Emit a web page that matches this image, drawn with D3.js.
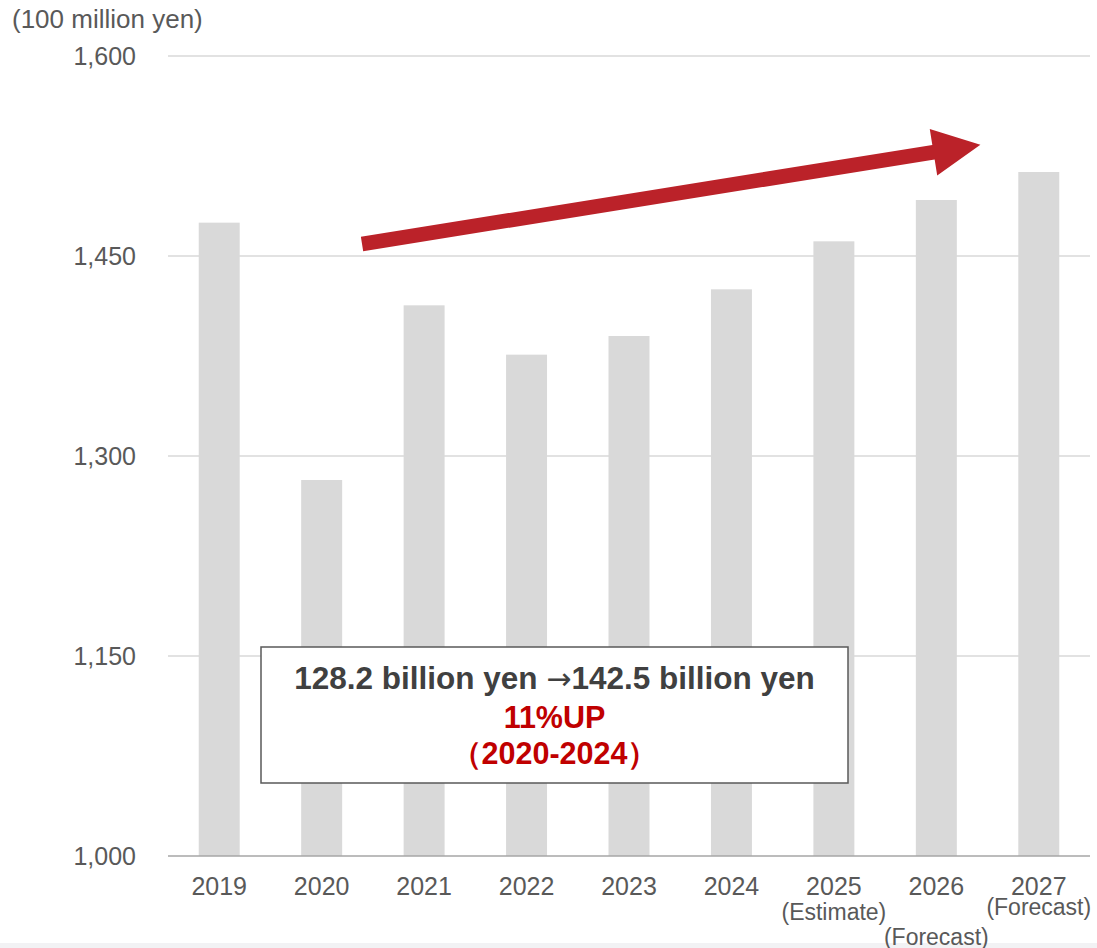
<!DOCTYPE html>
<html>
<head>
<meta charset="utf-8">
<script src="https://cdn.jsdelivr.net/npm/d3@7"></script>
<style>
  html, body { margin: 0; padding: 0; background: #ffffff; }
  svg { display: block; }
  text { font-family: "Liberation Sans", Arial, sans-serif; }
</style>
</head>
<body>
<script>
// Sales revenue by fiscal year (unit: 100 million yen)
const years = ["2019", "2020", "2021", "2022", "2023", "2024", "2025", "2026", "2027"];
const yearNotes = ["", "", "", "", "", "", "(Estimate)", "(Forecast)", "(Forecast)"];
const revenue = [1475, 1282, 1413, 1376, 1390, 1425, 1461, 1492, 1513];
const yTicks = [1000, 1150, 1300, 1450, 1600];
const unitLabel = "(100 million yen)";
// first callout line is split around the arrow glyph
const calloutHead = ["128.2 billion yen ", "\u2192", "142.5 billion yen"];
const calloutLines = ["11%UP", "\uff082020-2024\uff09"];

// Trend arrow endpoints: [category position, value]
const trendFrom = [1.894, 1459];
const trendTo = [7.93, 1533.5];

const W = 1097, H = 948;
const plot = { left: 168, right: 1090, top: 56, bottom: 856 };

const svg = d3.select("body").append("svg")
  .attr("width", W).attr("height", H);

// light strip along the page's bottom edge
svg.append("rect")
  .attr("x", 0).attr("y", 943).attr("width", W).attr("height", H - 943)
  .attr("fill", "#f2f2f4");

const x = d3.scaleBand()
  .domain(years)
  .range([plot.left, plot.right])
  .paddingInner(0.6)
  .paddingOuter(0.3);

const xPos = d3.scaleLinear().domain([0, years.length]).range([plot.left, plot.right]);

const y = d3.scaleLinear()
  .domain([yTicks[0], yTicks[yTicks.length - 1]])
  .range([plot.bottom, plot.top]);

// horizontal gridlines
svg.append("g").selectAll("line")
  .data(yTicks.slice(1))
  .join("line")
  .attr("x1", plot.left).attr("x2", plot.right)
  .attr("y1", d => y(d)).attr("y2", d => y(d))
  .attr("stroke", "#d9d9d9").attr("stroke-width", 1.5);

// bars
svg.append("g").selectAll("rect")
  .data(revenue)
  .join("rect")
  .attr("x", (d, i) => x(years[i]))
  .attr("width", x.bandwidth())
  .attr("y", d => y(d))
  .attr("height", d => y(yTicks[0]) - y(d))
  .attr("fill", "#d9d9d9");

// baseline
svg.append("line")
  .attr("x1", plot.left).attr("x2", plot.right)
  .attr("y1", y(yTicks[0])).attr("y2", y(yTicks[0]))
  .attr("stroke", "#a6a6a6").attr("stroke-width", 1.5);

// y axis
const yAxis = svg.append("g")
  .attr("transform", `translate(${plot.left},0)`)
  .call(d3.axisLeft(y).tickValues(yTicks).tickFormat(d3.format(",")).tickSize(0).tickPadding(32));
yAxis.select(".domain").remove();
yAxis.selectAll("text")
  .attr("font-size", 25)
  .attr("fill", "#595959")
  .style("font-family", "'Liberation Sans', Arial, sans-serif");

// unit label
svg.append("text")
  .attr("x", 12).attr("y", 28)
  .attr("font-size", 26)
  .attr("fill", "#595959")
  .text(unitLabel);

// x axis
const xAxis = svg.append("g")
  .attr("transform", `translate(0,${plot.bottom})`)
  .call(d3.axisBottom(x).tickSize(0).tickPadding(21));
xAxis.select(".domain").remove();
xAxis.selectAll("text")
  .attr("font-size", 25)
  .attr("fill", "#595959")
  .style("font-family", "'Liberation Sans', Arial, sans-serif");

// notes under the estimate / forecast years
const noteBaseline = [0, 0, 0, 0, 0, 0, 920, 945, 915];
const notes = yearNotes
  .map((text, i) => ({ text, year: years[i], baseline: noteBaseline[i] }))
  .filter(d => d.text !== "");
svg.append("g").selectAll("text")
  .data(notes)
  .join("text")
  .attr("x", d => x(d.year) + x.bandwidth() / 2)
  .attr("y", d => d.baseline)
  .attr("text-anchor", "middle")
  .attr("font-size", 23)
  .attr("fill", "#595959")
  .text(d => d.text);

// trend arrow
(function drawArrow() {
  const p0 = [xPos(trendFrom[0]), y(trendFrom[1])];
  const p1 = [xPos(trendTo[0]), y(trendTo[1])];
  const dx = p1[0] - p0[0], dy = p1[1] - p0[1];
  const len = Math.hypot(dx, dy);
  const u = [dx / len, dy / len];
  const n = [-u[1], u[0]];
  const shaftHalf = 7.3, headHalf = 23.5, headLen = 47.5;
  const base = [p1[0] - u[0] * headLen, p1[1] - u[1] * headLen];
  const pt = (p, k) => [p[0] + n[0] * k, p[1] + n[1] * k];
  const pts = [
    pt(p0, -shaftHalf), pt(base, -shaftHalf), pt(base, -headHalf), p1,
    pt(base, headHalf), pt(base, shaftHalf), pt(p0, shaftHalf)
  ];
  svg.append("polygon")
    .attr("points", pts.map(p => p.join(",")).join(" "))
    .attr("fill", "#bb2229");
})();

// callout box
const box = { x: 261, y: 647, w: 587, h: 136 };
svg.append("rect")
  .attr("x", box.x).attr("y", box.y).attr("width", box.w).attr("height", box.h)
  .attr("fill", "#ffffff").attr("stroke", "#595959").attr("stroke-width", 1.5);

const cx = box.x + box.w / 2;
const head = svg.append("text")
  .attr("x", cx).attr("y", 689)
  .attr("text-anchor", "middle")
  .attr("font-size", 31.5)
  .attr("font-weight", "bold")
  .attr("fill", "#404040");
head.selectAll("tspan")
  .data(calloutHead)
  .join("tspan")
  .style("font-family", (d, i) => i === 1 ? "'DejaVu Sans', sans-serif" : null)
  .attr("font-weight", (d, i) => i === 1 ? "normal" : null)
  .attr("font-size", (d, i) => i === 1 ? 30 : null)
  .text(d => d);

const lineBaselines = [728, 764];
svg.append("g").selectAll("text")
  .data(calloutLines)
  .join("text")
  .attr("x", cx)
  .attr("y", (d, i) => lineBaselines[i])
  .attr("text-anchor", "middle")
  .attr("font-size", 30.5)
  .attr("font-weight", "bold")
  .attr("fill", "#c00000")
  .text(d => d);
</script>
</body>
</html>
